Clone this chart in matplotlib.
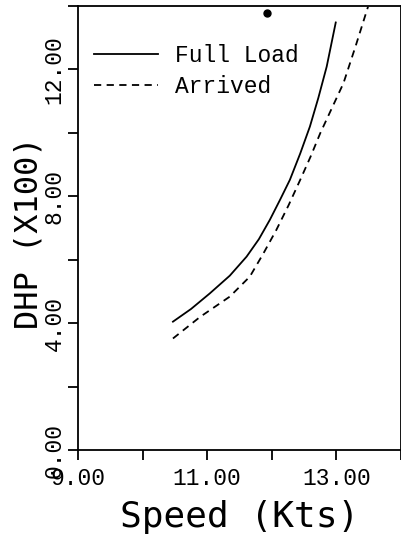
import matplotlib
matplotlib.use("Agg")
import matplotlib.pyplot as plt

# Full Load curve (speed in knots, DHP in hundreds)
full_speed = [10.47, 10.75, 11.04, 11.35, 11.61, 11.80, 11.97, 12.13, 12.28, 12.44, 12.59, 12.72, 12.85, 12.99]
full_dhp = [4.05, 4.45, 4.94, 5.50, 6.10, 6.65, 7.26, 7.90, 8.52, 9.35, 10.20, 11.10, 12.09, 13.48]

# Arrived curve
arr_speed = [10.47, 10.89, 11.35, 11.66, 11.87, 12.07, 12.26, 12.44, 12.60, 12.75, 12.93, 13.11, 13.30, 13.49]
arr_dhp = [3.52, 4.20, 4.84, 5.47, 6.20, 6.94, 7.72, 8.52, 9.25, 9.99, 10.78, 11.57, 12.75, 13.98]

# stray plotter dot near the top edge
dot_speed = [11.92]
dot_dhp = [13.78]

x_ticks = [9, 10, 11, 12, 13, 14]
x_labels = ["9.00", "", "11.00", "", "13.00", ""]
y_ticks = [0, 2, 4, 6, 8, 10, 12, 14]
y_labels = ["0.00", "", "4.00", "", "8.00", "", "12.00", ""]

fig = plt.figure(figsize=(4.02, 5.34), dpi=100)
ax = fig.add_axes([0.194, 0.157, 0.8035, 0.8318])

mono = "Liberation Mono"
sans_mono = "DejaVu Sans Mono"

ax.plot(full_speed, full_dhp, color="black", linewidth=1.3, label="Full Load")
ax.plot(arr_speed, arr_dhp, color="black", linewidth=1.3, linestyle=(0, (4, 3)), label="Arrived")
ax.plot(dot_speed, dot_dhp, "o", color="black", markersize=5, clip_on=False)

ax.set_xlim(9, 14)
ax.set_ylim(0, 14)
ax.set_xticks(x_ticks)
ax.set_xticklabels(x_labels, family=mono, fontsize=16.5)
ax.set_yticks(y_ticks)
ax.set_yticklabels(y_labels, family=mono, fontsize=16.5, rotation=90, va="center")
ax.tick_params(axis="x", direction="out", length=7, width=1.3, pad=5)
ax.tick_params(axis="y", direction="out", length=7, width=1.3, pad=2)

for sp in ax.spines.values():
    sp.set_linewidth(1.3)

ax.set_xlabel("Speed (Kts)", family=sans_mono, fontsize=26, labelpad=7)
ax.set_ylabel("DHP (X100)", family=sans_mono, fontsize=23)
ax.yaxis.set_label_coords(-0.105, 0.49)

leg = ax.legend(loc="upper left", bbox_to_anchor=(0.0, 0.95), frameon=False,
                prop={"family": mono, "size": 16.5}, handlelength=2.8,
                handletextpad=0.75, labelspacing=0.35, borderaxespad=0.3)

fig.savefig("out.png", dpi=100)
